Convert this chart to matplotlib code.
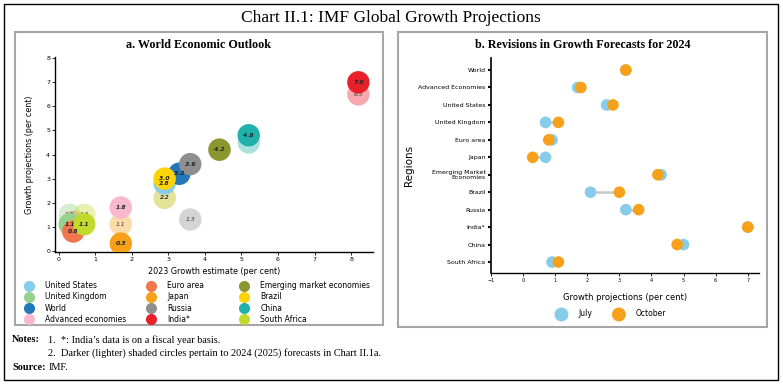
import matplotlib
matplotlib.use("Agg")
import matplotlib.pyplot as plt
from matplotlib.patches import Rectangle
from matplotlib.lines import Line2D

# ---------------- Data ----------------
countries = ["United States", "United Kingdom", "World", "Advanced economies",
             "Euro area", "Japan", "Russia", "India*",
             "Emerging market economies", "Brazil", "China", "South Africa"]
growth_2023 = [2.9, 0.3, 3.3, 1.7, 0.4, 1.7, 3.6, 8.2, 4.4, 2.9, 5.2, 0.7]
proj_2024 = [2.8, 1.1, 3.2, 1.8, 0.8, 0.3, 3.6, 7.0, 4.2, 3.0, 4.8, 1.1]
proj_2025 = [2.2, 1.5, 3.2, 1.8, 1.2, 1.1, 1.3, 6.5, 4.2, 2.2, 4.5, 1.5]
colors = ["#87cdea", "#98d18c", "#2377b8", "#f7b9cb",
          "#f0764e", "#f7a11a", "#8f8f8f", "#e8202a",
          "#8a9630", "#ffd400", "#20b2aa", "#c2d92e"]

regions = ["World", "Advanced Economies", "United States", "United Kingdom",
           "Euro area", "Japan", "Emerging Market\nEconomies", "Brazil",
           "Russia", "India*", "China", "South Africa"]
july = [3.2, 1.7, 2.6, 0.7, 0.9, 0.7, 4.3, 2.1, 3.2, 7.0, 5.0, 0.9]
october = [3.2, 1.8, 2.8, 1.1, 0.8, 0.3, 4.2, 3.0, 3.6, 7.0, 4.8, 1.1]

W, H = 783, 384
fig = plt.figure(figsize=(W / 100, H / 100), dpi=100)

def fx(px):
    return px / W

def fy(py):
    return 1 - py / H

# outer border
fig.add_artist(Rectangle((fx(4), fy(380)), fx(774), 376 / H, transform=fig.transFigure,
                         fill=False, edgecolor="black", linewidth=1.0))
# panel boxes
fig.add_artist(Rectangle((fx(15), fy(325)), fx(368), 293 / H, transform=fig.transFigure,
                         fill=False, edgecolor="#a6a6a6", linewidth=1.5))
fig.add_artist(Rectangle((fx(398), fy(327)), fx(369), 295 / H, transform=fig.transFigure,
                         fill=False, edgecolor="#a6a6a6", linewidth=1.5))

serif = ["Liberation Serif", "DejaVu Serif"]
fig.text(fx(391), fy(18), "Chart II.1: IMF Global Growth Projections", ha="center", va="center",
         fontsize=12.5, family=serif)
fig.text(fx(199), fy(45), "a. World Economic Outlook", ha="center", va="center",
         fontsize=8.7, family=serif, fontweight="bold")
fig.text(fx(583), fy(45), "b. Revisions in Growth Forecasts for 2024", ha="center", va="center",
         fontsize=8.7, family=serif, fontweight="bold")

# ---------------- Panel a ----------------
axa = fig.add_axes([fx(55), fy(252), fx(373 - 55), (252 - 57) / H])
for x, y, c in zip(growth_2023, proj_2025, colors):
    axa.scatter(x, y, s=260, color=c, alpha=0.38, edgecolors="none", zorder=2)
    axa.text(x, y, f"{y:.1f}", ha="center", va="center", fontsize=4.3,
             fontstyle="italic", color="#333333", zorder=3)
handles = []
for x, y, c, name in zip(growth_2023, proj_2024, colors, countries):
    axa.scatter(x, y, s=260, color=c, edgecolors="none", zorder=4)
    axa.text(x, y, f"{y:.1f}", ha="center", va="center", fontsize=4.3,
             fontstyle="italic", fontweight="bold", color="#222222", zorder=5)
    handles.append(Line2D([], [], marker="o", linestyle="none", markersize=8,
                          markerfacecolor=c, markeredgecolor="none", label=name))
axa.set_xlim(-0.1, 8.6)
axa.set_ylim(-0.05, 8.05)
axa.set_xticks(range(0, 9))
axa.set_yticks(range(0, 9))
axa.tick_params(labelsize=4.5, length=2, width=0.6, pad=1.5)
for s in ["top", "right"]:
    axa.spines[s].set_visible(False)
for s in ["left", "bottom"]:
    axa.spines[s].set_linewidth(1.0)
axa.set_xlabel("2023 Growth estimate (per cent)", fontsize=5.8, labelpad=4)
axa.set_ylabel("Growth projections (per cent)", fontsize=5.8, labelpad=9)

col_x = [20, 142, 235]
for k in range(3):
    fig.legend(handles=handles[4 * k:4 * k + 4], ncol=1, loc="upper left",
               bbox_to_anchor=(fx(col_x[k]), fy(276)),
               frameon=False, fontsize=5.5, handletextpad=1.6,
               labelspacing=0.28, borderpad=0.2, handlelength=1.0)

# ---------------- Panel b ----------------
axb = fig.add_axes([fx(491), fy(273), fx(759 - 491), (273 - 58) / H])
ypos = list(range(len(regions)))
for i, (a, b) in enumerate(zip(july, october)):
    axb.plot([a, b], [i, i], color="#c8c8c8", linewidth=1.8, zorder=1)
axb.scatter(july, ypos, s=70, color="#87cdea", edgecolors="none", zorder=2, label="July")
axb.scatter(october, ypos, s=70, color="#f7a11a", edgecolors="none", zorder=3, label="October")
axb.set_yticks(ypos)
axb.set_yticklabels(regions, fontsize=4.5, linespacing=1.0)
axb.set_ylim(11.63, -0.69)
axb.set_xlim(-1, 7.35)
axb.set_xticks(range(-1, 8))
axb.tick_params(axis="x", labelsize=3.5, length=2, width=0.6, pad=1.5)
axb.tick_params(axis="y", length=2.5, width=1.5, pad=1.5)
for s in ["top", "right"]:
    axb.spines[s].set_visible(False)
axb.spines["left"].set_linewidth(1.2)
axb.spines["bottom"].set_linewidth(1.0)
axb.set_xlabel("Growth projections (per cent)", fontsize=6, labelpad=7)
axb.set_ylabel("Regions", fontsize=7.5, labelpad=3)
fig.legend(*axb.get_legend_handles_labels(), ncol=2, loc="center",
           bbox_to_anchor=(fx(610), fy(314)), frameon=False, fontsize=5.5,
           handletextpad=1.2, columnspacing=2.5, markerscale=1.2)

# ---------------- Notes ----------------
fs = 7.4
fig.text(fx(12), fy(340), "Notes:", fontsize=fs, family=serif, fontweight="bold", va="center")
fig.text(fx(48), fy(340), "1.  *: India\u2019s data is on a fiscal year basis.", fontsize=fs,
         family=serif, va="center")
fig.text(fx(48), fy(353), "2.  Darker (lighter) shaded circles pertain to 2024 (2025) forecasts in Chart II.1a.",
         fontsize=fs, family=serif, va="center")
fig.text(fx(12), fy(368), "Source:", fontsize=fs, family=serif, fontweight="bold", va="center")
fig.text(fx(49), fy(368), "IMF.", fontsize=fs, family=serif, va="center")

fig.savefig("out.png", dpi=100)
